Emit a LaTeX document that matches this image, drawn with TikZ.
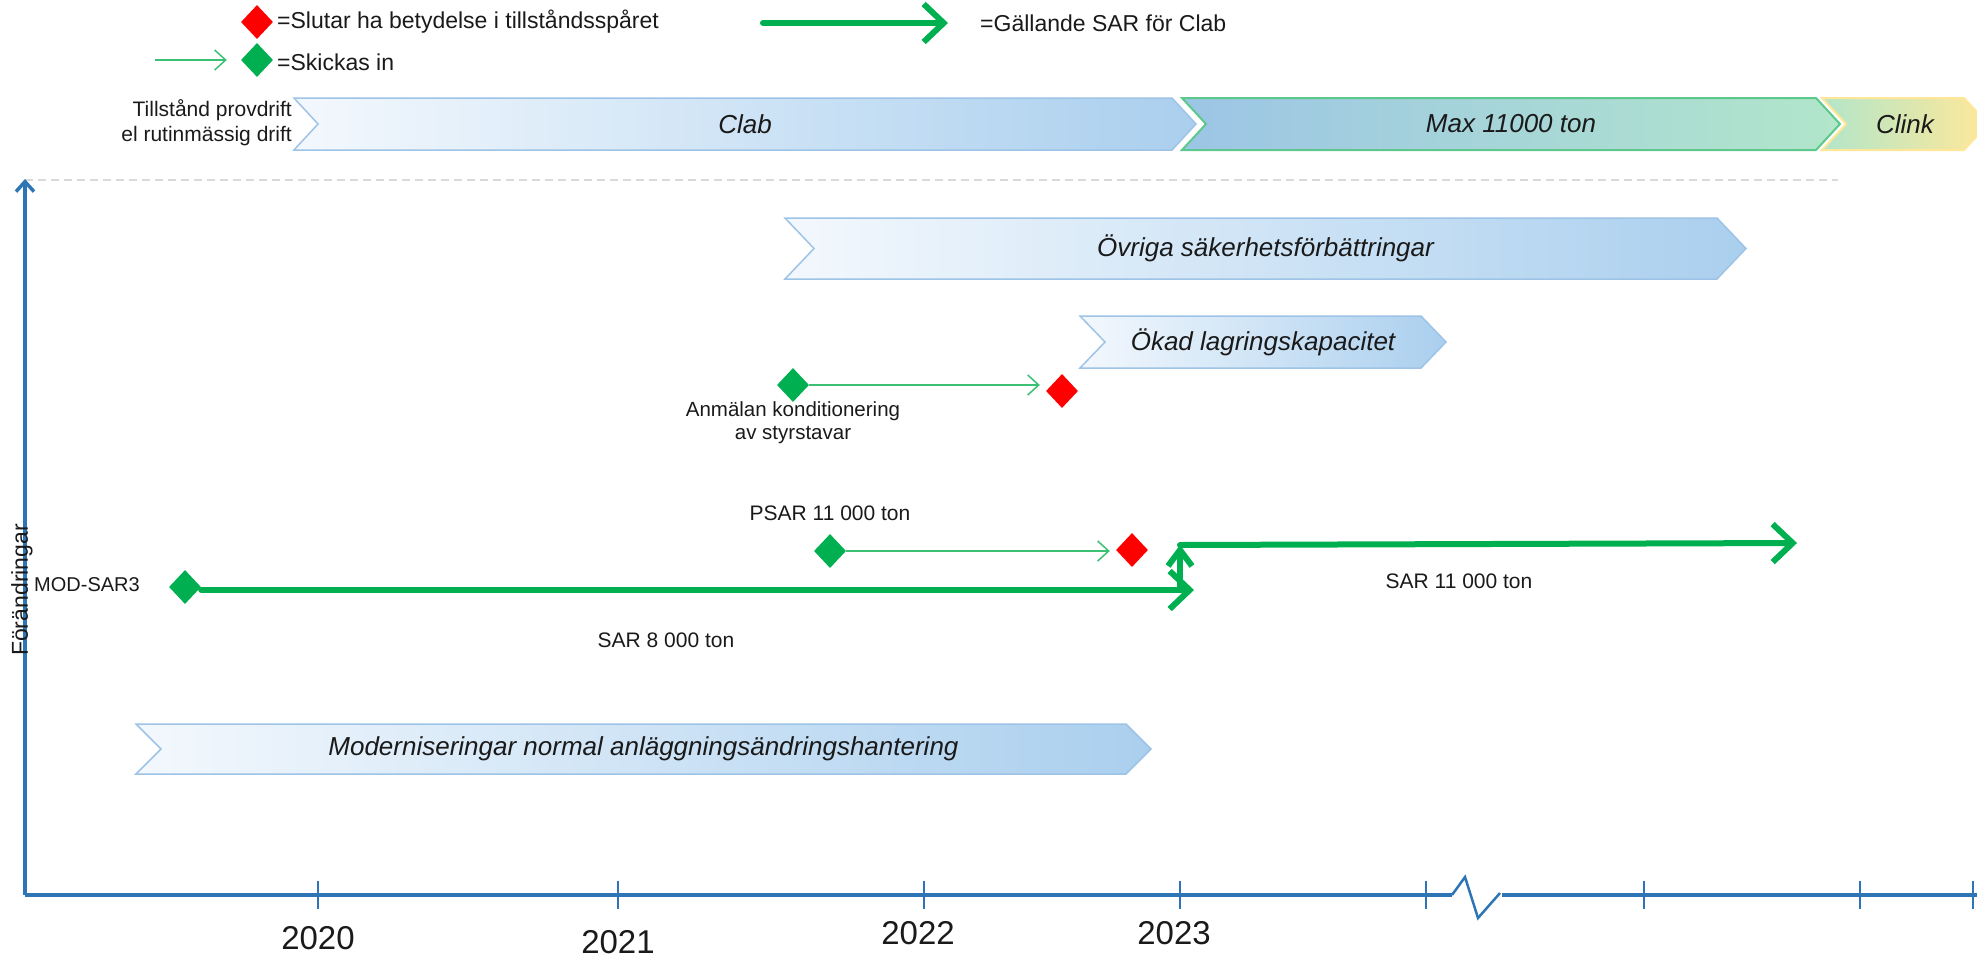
\documentclass[tikz,border=0pt]{standalone}
\usepackage{fontspec}
\setmainfont{Liberation Sans}
\usetikzlibrary{arrows.meta,shapes.geometric}
\definecolor{axisblue}{HTML}{2E75B6}
\definecolor{sargreen}{HTML}{00B050}
\definecolor{thingreen}{HTML}{3CC073}
\definecolor{redd}{HTML}{FF0000}
\definecolor{chevline}{HTML}{9DC3E6}
\definecolor{chevL}{HTML}{F3F8FD}
\definecolor{chevR}{HTML}{AACFEE}
\definecolor{maxL}{HTML}{9CC5E6}
\definecolor{maxR}{HTML}{B2E6CA}
\definecolor{maxline}{HTML}{5CC88C}
\definecolor{clinkL}{HTML}{B2E6CA}
\definecolor{clinkR}{HTML}{FFE899}
\definecolor{clinkline}{HTML}{FFE699}
\definecolor{dashgray}{HTML}{D9D9D9}
\definecolor{txt}{HTML}{1A1A1A}
\newcommand\mychev[8]{%
  \path[#7] (#2,#4) -- ({#3-#6},#4) -- (#3,{(#4+#5)/2}) -- ({#3-#6},#5) -- (#2,#5) -- ({#2+#6},{(#4+#5)/2}) -- cycle;
  \node[chevtext] (#1) at ({(#2+#3)/2},{(#4+#5)/2}) {#8};}
\tikzset{
  bluechev/.style={draw=chevline, line width=1.5pt, left color=chevL, right color=chevR},
  maxchev/.style={draw=maxline, line width=2pt, left color=maxL, right color=maxR},
  clinkchev/.style={draw=clinkline, line width=2pt, left color=clinkL, right color=clinkR},
  chevtext/.style={font=\fontsize{26}{30}\selectfont\itshape, text=txt, inner sep=0pt},
  legtext/.style={font=\fontsize{23}{27}\selectfont, text=txt, inner sep=0pt},
  smalltext/.style={font=\fontsize{21}{25}\selectfont, text=txt, inner sep=0pt},
  yeartext/.style={font=\fontsize{33}{36}\selectfont, text=txt, inner sep=0pt},
  gdia/.style={diamond, fill=sargreen, inner sep=0pt, minimum width=32pt, minimum height=34pt},
  rdia/.style={diamond, fill=redd, inner sep=0pt, minimum width=32pt, minimum height=34pt},
  sararrow/.style={draw=sargreen, line width=6pt, line cap=round, line join=round, -{Straight Barb[length=20pt,width=38pt]}},
  sarup/.style={draw=sargreen, line width=6pt, line cap=round, line join=round, -{Straight Barb[length=16pt,width=24pt]}},
  thinarrow/.style={draw=thingreen, line width=1.5pt, -{Straight Barb[length=11pt,width=20pt]}},
  axisline/.style={draw=axisblue, line width=3.5pt},
  tickline/.style={draw=axisblue, line width=2.5pt},
}
\begin{document}
\begin{tikzpicture}[x=1pt,y=-1pt]
\useasboundingbox (0,0) rectangle (1977,959);
% legend
\node[rdia] (lr) at (257,22) {};
\node[legtext, anchor=west] (lrt) at (277,22) {=Slutar ha betydelse i tillståndsspåret};
\node[gdia] (lg) at (257,60) {};
\node[legtext, anchor=west] (lgt) at (277,62) {=Skickas in};
\coordinate (lgs) at (155,60);
\draw[thinarrow, shorten >=14pt] (lgs) -- (lg.west);
\coordinate (la1) at (763,23);
\coordinate (la2) at (948,23);
\draw[sararrow] (la1) -- (la2);
\node[legtext, anchor=west] (lat) at (980,23) {=Gällande SAR för Clab};
% top row
\node[smalltext, align=right, anchor=east, font=\fontsize{21}{25}\selectfont] (till) at (292,123) {Tillstånd provdrift\\el rutinmässig drift};
\mychev{clab}{294}{1196}{98}{150}{24}{bluechev}{Clab}
\mychev{max}{1182}{1840}{98}{150}{24}{maxchev}{Max 11000 ton}
\mychev{clink}{1822}{1988}{98}{150}{24}{clinkchev}{Clink}
\coordinate (d1) at (25,180);
\coordinate (d2) at (1838,180);
\draw[dashgray, line width=1.2pt, dash pattern=on 8pt off 5pt] (d1) -- (d2);
% axes
\coordinate (origin) at (25,895);
\coordinate (ytop) at (25,179);
\draw[axisline, -{Straight Barb[length=10pt,width=18pt]}] (origin) -- (ytop);
\coordinate (xb1) at (1452,895);
\coordinate (zz1) at (1465,877);
\coordinate (zz2) at (1478,918);
\coordinate (zz3) at (1500,893);
\coordinate (xb2) at (1502,895);
\coordinate (xend) at (1977,895);
\draw[axisline] (origin) -- (xb1);
\draw[axisblue, line width=2.5pt, line join=miter] (xb1) -- (zz1) -- (zz2) -- (zz3);
\draw[axisline] (xb2) -- (xend);
\foreach \t/\n in {318/t1,618/t2,924/t3,1180/t4,1426/t5,1644/t6,1860/t7,1973/t8}{
  \coordinate (\n a) at (\t,881);
  \coordinate (\n b) at (\t,909);
  \draw[tickline] (\n a) -- (\n b);
}
\node[font=\fontsize{23}{27}\selectfont, text=txt, rotate=90, inner sep=0pt] (yl) at (22,590) {Förändringar};
\node[yeartext] (y20) at (318,938) {2020};
\node[yeartext] (y21) at (618,942) {2021};
\node[yeartext] (y22) at (918,933) {2022};
\node[yeartext] (y23) at (1174,933) {2023};
% chevrons
\mychev{ovr}{785}{1746}{218}{279}{29}{bluechev}{Övriga säkerhetsförbättringar}
\mychev{okad}{1080}{1446}{316}{368}{25}{bluechev}{Ökad lagringskapacitet}
\mychev{modc}{136}{1151}{724}{774}{25}{bluechev}{Moderniseringar normal anläggningsändringshantering}
% Anmälan
\node[gdia] (ag) at (793,385) {};
\node[rdia] (ar) at (1062,391) {};
\draw[thinarrow, shorten >=6pt] (ag.east) -- (ag.east -| ar.west);
\node[smalltext, align=center, anchor=north, font=\fontsize{20.5}{23}\selectfont] (al) at (793,401) {Anmälan konditionering\\av styrstavar};
% PSAR
\node[smalltext] (pl) at (830,513) {PSAR 11 000 ton};
\node[gdia] (pg) at (830,551) {};
\node[rdia] (pr) at (1132,550) {};
\draw[thinarrow, shorten >=6pt] (pg.east) -- (pg.east -| pr.west);
% MOD-SAR3 / SAR 8000
\node[smalltext, font=\fontsize{20}{24}\selectfont] (mt) at (87,585) {MOD-SAR3};
\node[gdia] (mg) at (185,587) {};
\coordinate (s8e) at (1194,590);
\draw[sararrow] (mg.east |- s8e) -- (s8e);
\node[smalltext] (s8) at (666,640) {SAR 8 000 ton};
% SAR 11000
\coordinate (vb) at (1180,590);
\coordinate (vt) at (1180,545);
\coordinate (s11e) at (1797,543);
\draw[sararrow] (vt) -- (s11e);
\draw[sarup] (vb) -- (vt);
\node[smalltext] (s11) at (1459,581) {SAR 11 000 ton};
\end{tikzpicture}
\end{document}
